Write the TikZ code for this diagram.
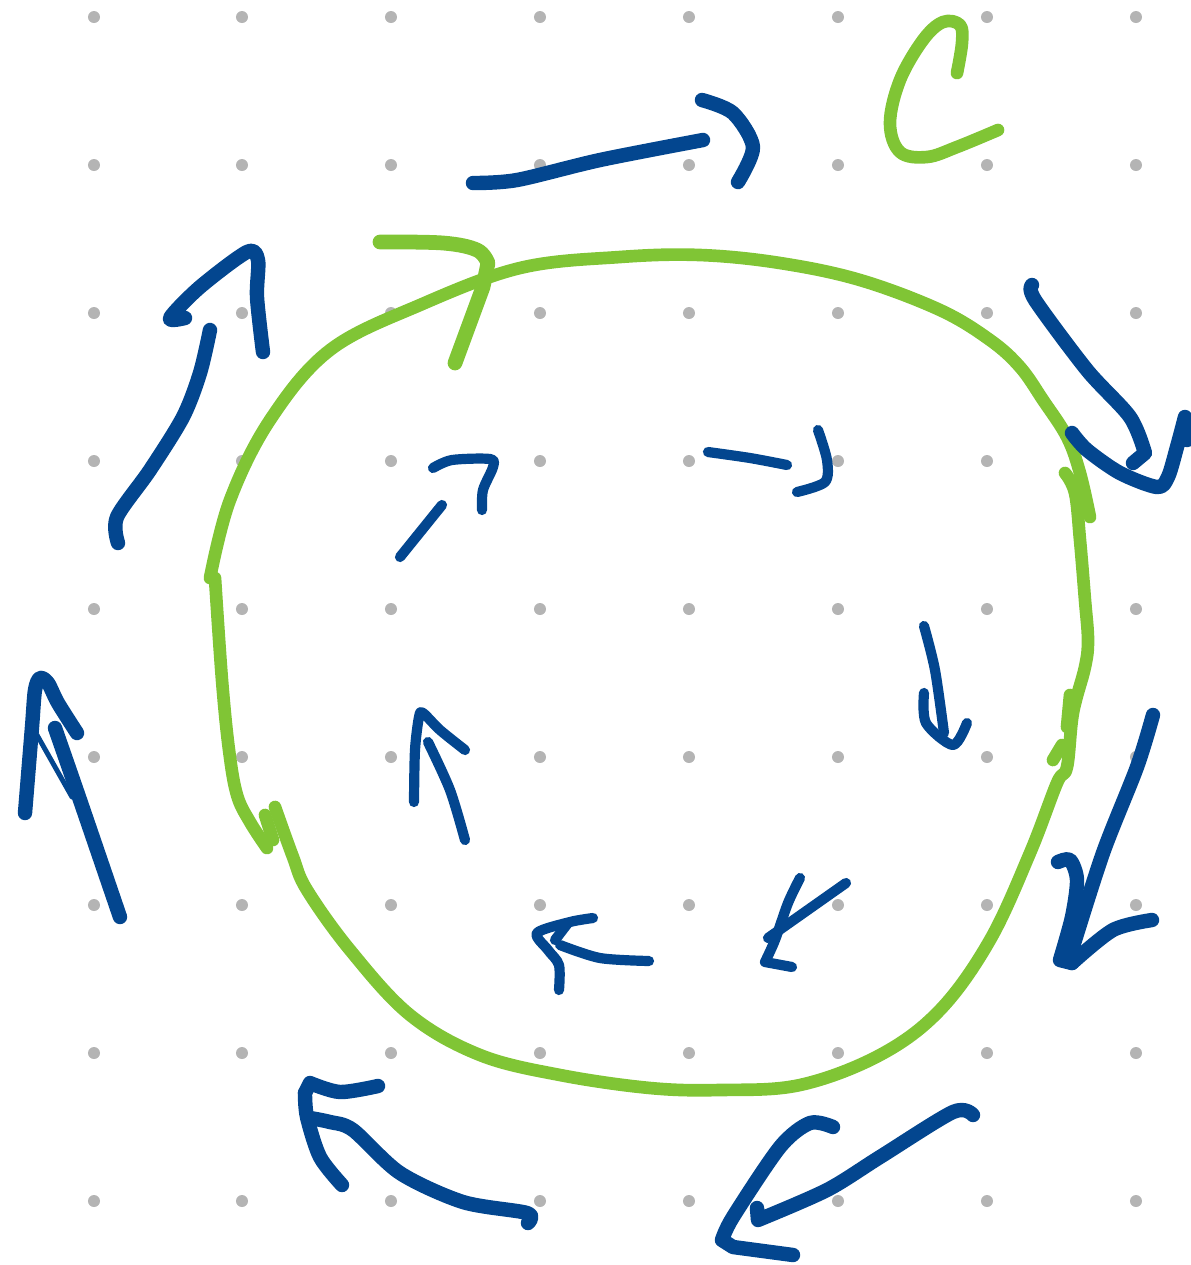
\documentclass[tikz,border=0pt]{standalone}
\usepackage{tikz}
\definecolor{inkblue}{RGB}{3,70,143}
\definecolor{inkgreen}{RGB}{128,197,53}
\definecolor{dotgray}{RGB}{180,180,180}

\begin{document}
\begin{tikzpicture}[x=0.01cm, y=-0.01cm,
  pen/.style={line width=4.1pt, line cap=round, line join=round, inkblue},
  thinpen/.style={line width=2.9pt, line cap=round, line join=round, inkblue},
  loopline/.style={line width=3.6pt, line cap=round, line join=round, inkgreen}]
\useasboundingbox (0,0) rectangle (1191,1265);
% dot grid
\foreach \x in {94,242,391,540,689,838,987,1136}
  \foreach \y in {17,165,313,461,609,757,905,1053,1201}
    \fill[dotgray] (\x,\y) circle (0.6mm);

% curve C
\draw[loopline, line width=4.2pt] plot[smooth, tension=0.6] coordinates {(380,242) (443,243) (477,250) (488,263)}
  -- (483,287) -- (455,363);
\draw[loopline] plot[smooth, tension=0.6] coordinates {(210,578) (230,500) (270,420) (330,350) (420,305)
  (520,268) (620,257) (700,255) (780,263) (860,280) (940,310) (990,340) (1020,367) (1043,400)
  (1067,437) (1080,473) (1090,517)};
\draw[loopline] plot[smooth, tension=0.6] coordinates {(1065,473) (1075,493) (1080,540) (1085,600)
  (1088,640) (1085,667) (1073,713) (1067,767) (1057,783) (1030,853) (990,940) (940,1010)
  (880,1055) (800,1085) (720,1090) (650,1088) (560,1075) (480,1055) (410,1015) (350,950)
  (307,890) (293,857) (275,807)};
\draw[loopline] plot[smooth, tension=0.6] coordinates {(215,578) (222,680) (229,750) (237,795)
  (250,822) (267,848)};
\draw[loopline] (265,815) -- (273,840);
\draw[loopline] (1070,695) -- (1067,727);
\draw[loopline] (1062,745) -- (1053,760);
\draw[loopline] plot[smooth, tension=0.6] coordinates {(957,73) (962,43) (960,25)
  (943,22) (923,40) (900,80) (890,123) (900,152) (927,157) (957,147) (998,130)};

% outer arrows
\draw[pen] plot[smooth] coordinates {(473,183) (517,180) (600,160) (703,140)};
\draw[pen] plot[smooth] coordinates {(702,100) (733,113) (753,147) (738,182)};

\draw[pen] plot[smooth] coordinates {(1032,285) (1035,300) (1087,370) (1130,417) (1145,453)} -- (1133,463);
\draw[pen] plot[smooth] coordinates {(1072,433) (1087,450) (1120,473) (1157,487) (1168,477)
  (1177,447) (1185,417)} -- (1187,440);

\draw[pen] plot[smooth] coordinates {(1153,715) (1137,767) (1103,853) (1072,950)};
\draw[pen] plot[smooth] coordinates {(1058,862) (1070,860) (1077,880) (1072,917) (1060,960)}
  -- (1072,963);
\draw[pen] plot[smooth] coordinates {(1072,963) (1113,930) (1152,920)};

\draw[pen] plot[smooth] coordinates {(973,1115) (953,1112) (880,1157) (827,1190) (758,1220)} -- (757,1208);
\draw[pen] plot[smooth] coordinates {(833,1127) (810,1123) (780,1147) (733,1217) (722,1240)}
  -- (733,1247) -- (793,1255);

\draw[pen] plot[smooth] coordinates {(528,1223) (527,1213) (463,1202) (400,1173) (353,1130)
  (330,1122) (310,1118)};
\draw[pen] plot[smooth] coordinates {(378,1086) (340,1092) (310,1083)} -- (305,1093);
\draw[pen] plot[smooth] coordinates {(305,1093) (307,1117) (320,1157) (342,1185)};

\draw[pen] plot[smooth] coordinates {(25,813) (32,727) (35,690) (40,678) (48,683) (58,703) (77,733)};
\draw[pen] plot[smooth] coordinates {(55,728) (80,800) (120,917)};
\draw[inkblue, line width=1.4pt, line cap=round] (37,735) -- (72,797);

\draw[pen] plot[smooth] coordinates {(118,543) (117,517) (150,470) (183,417) (200,373) (210,330)};
\draw[pen] plot[smooth] coordinates {(185,318) (170,318) (200,287) (247,252) (258,260) (257,297) (263,352)};

% inner arrows
\draw[thinpen] (400,557) -- (442,505);
\draw[thinpen] plot[smooth] coordinates {(433,468) (452,460) (490,459) (493,467) (483,490) (482,510)};

\draw[thinpen] plot[smooth] coordinates {(708,452) (750,458) (787,465)};
\draw[thinpen] plot[smooth] coordinates {(818,430) (827,460) (825,482) (797,492)};

\draw[thinpen] plot[smooth] coordinates {(924,626) (935,670) (944,733)};
\draw[thinpen] plot[smooth] coordinates {(924,693) (926,723) (953,745) (967,723)};

\draw[thinpen] (846,883) -- (768,938);
\draw[thinpen] plot[smooth] coordinates {(800,878) (788,903) (775,940) (765,962)} -- (792,967);

\draw[thinpen] plot[smooth] coordinates {(649,961) (600,958) (560,945)};
\draw[thinpen] (555,940) -- (568,923);
\draw[thinpen] plot[smooth] coordinates {(593,918) (570,922) (537,933) (548,950) (559,965) (559,990)};

\draw[thinpen] plot[smooth] coordinates {(465,840) (450,790) (428,742)};
\draw[thinpen] plot[smooth] coordinates {(414,802) (415,750) (419,717) (423,713) (440,730) (465,750)};
\end{tikzpicture}
\end{document}
